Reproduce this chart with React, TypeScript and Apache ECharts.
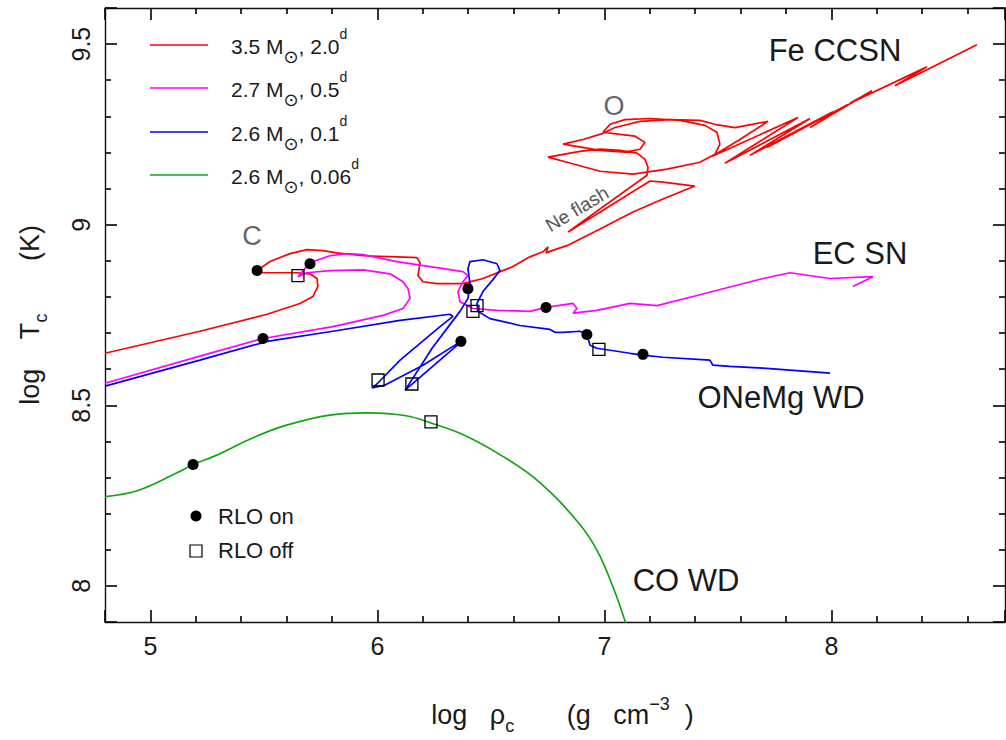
import React, { useEffect, useRef } from "react";
import * as echarts from "echarts";

// ---- data (log rho_c, log T_c) ----
const track35: number[][] = [
  [4.8, 8.644], [5.218, 8.705], [5.514, 8.752], [5.659, 8.782], [5.716, 8.801], [5.738, 8.829],
  [5.734, 8.851], [5.703, 8.864], [5.646, 8.867], [5.496, 8.867], [5.47, 8.873], [5.527, 8.898],
  [5.615, 8.92], [5.69, 8.931], [5.76, 8.928], [5.822, 8.922], [5.937, 8.914], [6.086, 8.911],
  [6.174, 8.909], [6.188, 8.895], [6.179, 8.859], [6.201, 8.842], [6.263, 8.837], [6.377, 8.837],
  [6.465, 8.851], [6.597, 8.884], [6.672, 8.911], [6.729, 8.925], [6.752, 8.939], [6.743, 8.922],
  [6.782, 8.931], [6.835, 8.942], [6.981, 8.988], [7.126, 9.035], [7.258, 9.071], [7.399, 9.107],
  [7.258, 9.118], [7.201, 9.121], [6.84, 8.98], [7.188, 9.137], [7.192, 9.159], [7.179, 9.181],
  [7.144, 9.198], [7.069, 9.206], [6.981, 9.209], [6.892, 9.203], [6.752, 9.187], [6.835, 9.173],
  [6.981, 9.148], [7.126, 9.14], [7.276, 9.154], [7.421, 9.173], [7.487, 9.195], [7.509, 9.223],
  [7.496, 9.256], [7.443, 9.275], [7.333, 9.289], [7.201, 9.294], [7.091, 9.291], [7.025, 9.278],
  [6.994, 9.256], [7.069, 9.25], [7.135, 9.245], [7.179, 9.228], [7.157, 9.209], [7.091, 9.201],
  [6.981, 9.206], [6.818, 9.223], [6.906, 9.236], [6.994, 9.253], [7.047, 9.269], [7.157, 9.286],
  [7.289, 9.291], [7.421, 9.289], [7.487, 9.278], [7.575, 9.269], [7.721, 9.286], [7.597, 9.236],
  [7.478, 9.19], [7.853, 9.297], [7.531, 9.17], [7.906, 9.294], [7.641, 9.192], [8.007, 9.313],
  [7.716, 9.214], [8.073, 9.333], [7.906, 9.269], [8.179, 9.371], [8.082, 9.336], [8.421, 9.437],
  [8.28, 9.385], [8.641, 9.498],
];

const track27: number[][] = [
  [4.8, 8.561], [5.218, 8.636], [5.496, 8.685], [5.804, 8.718], [6.025, 8.749], [6.113, 8.768],
  [6.144, 8.796], [6.135, 8.823], [6.113, 8.842], [6.056, 8.864], [5.937, 8.875], [5.791, 8.873],
  [5.69, 8.867], [5.65, 8.856], [5.703, 8.895], [5.791, 8.914], [5.866, 8.92], [5.937, 8.917],
  [6.086, 8.898], [6.232, 8.884], [6.377, 8.87], [6.399, 8.859], [6.377, 8.842], [6.355, 8.815],
  [6.364, 8.787], [6.421, 8.768], [6.527, 8.763], [6.672, 8.76], [6.743, 8.771], [6.862, 8.782],
  [6.879, 8.768], [6.862, 8.755], [6.967, 8.763], [7.113, 8.782], [7.232, 8.776], [7.408, 8.804],
  [7.699, 8.851], [7.818, 8.867], [7.994, 8.851], [8.183, 8.856], [8.095, 8.829],
];

const track26a: number[][] = [
  [4.8, 8.553], [5.218, 8.625], [5.514, 8.677], [5.804, 8.705], [6.1, 8.735], [6.32, 8.752],
  [6.333, 8.746], [6.276, 8.718], [6.1, 8.625], [5.998, 8.559], [5.976, 8.548], [6.034, 8.556],
  [6.201, 8.611], [6.368, 8.677], [6.351, 8.666], [6.122, 8.542], [6.179, 8.597], [6.241, 8.658],
  [6.307, 8.713], [6.364, 8.76], [6.399, 8.796], [6.408, 8.837], [6.399, 8.878], [6.408, 8.898],
  [6.465, 8.903], [6.527, 8.892], [6.54, 8.873], [6.509, 8.848], [6.465, 8.815], [6.439, 8.782],
  [6.443, 8.76], [6.496, 8.74], [6.628, 8.721], [6.76, 8.71], [6.782, 8.702], [6.818, 8.702],
  [6.892, 8.705], [6.923, 8.696], [6.937, 8.666], [6.967, 8.658], [7.113, 8.644], [7.17, 8.639],
  [7.258, 8.633], [7.465, 8.625], [7.478, 8.611], [7.553, 8.608], [7.699, 8.603], [7.994, 8.589],
];

const track26b: number[][] = [
  [4.8, 8.247], [4.945, 8.264], [5.117, 8.313], [5.188, 8.336], [5.285, 8.36], [5.452, 8.41],
  [5.589, 8.443], [5.791, 8.473], [5.959, 8.479], [6.126, 8.471], [6.236, 8.451], [6.381, 8.418],
  [6.549, 8.36], [6.716, 8.286], [6.884, 8.176], [6.967, 8.099], [7.038, 7.997], [7.095, 7.895],
  [7.108, 7.859],
];

const rloOn: number[][] = [
  [5.47, 8.873], [5.703, 8.892], [5.496, 8.685], [6.399, 8.823], [6.743, 8.771],
  [6.368, 8.677], [6.923, 8.696], [7.17, 8.641], [5.188, 8.336],
];
const rloOff: number[][] = [
  [5.65, 8.859], [6.003, 8.57], [6.152, 8.559], [6.421, 8.76], [6.439, 8.776],
  [6.976, 8.655], [6.236, 8.454],
];

const seriesNames = ["3.5 M⊙, 2.0d", "2.7 M⊙, 0.5d", "2.6 M⊙, 0.1d", "2.6 M⊙, 0.06d"];
const legendRich = [
  "{n|3.5 M}{s|⊙}{n|, 2.0}{p|d}",
  "{n|2.7 M}{s|⊙}{n|, 0.5}{p|d}",
  "{n|2.6 M}{s|⊙}{n|, 0.1}{p|d}",
  "{n|2.6 M}{s|⊙}{n|, 0.06}{p|d}",
];
const colors = ["#ff0000", "#ff00ff", "#0000ff", "#11a611"];

const xMajor = [5, 6, 7, 8];
const yMajor = [8, 8.5, 9, 9.5];

const X_MIN = 4.8;
const X_MAX = 8.765;
const Y_MIN = 7.9;
const Y_MAX = 9.6;

const FONT = '"Liberation Sans", Arial, Helvetica, sans-serif';
const INK = "#1a1a1a";

export default function App() {
  const ref = useRef<HTMLDivElement>(null);

  useEffect(() => {
    if (!ref.current) return;
    const chart = echarts.init(ref.current, undefined, { renderer: "svg" });
    const lineStyle = { color: "#111", width: 1.4 };
    const tickStyle = { color: "#000", width: 1.6 };

    // splitNumber gives a nice interval of 1 (x) and 0.5 (y); minor ticks split each by 5
    const mkX = (position: string, label: boolean, extra: any = {}) => ({
      type: "value",
      position,
      min: X_MIN,
      max: X_MAX,
      splitNumber: 4,
      axisLine: { show: true, onZero: false, lineStyle },
      axisTick: { show: true, inside: true, length: 12, lineStyle: tickStyle },
      minorTick: { show: true, splitNumber: 5, length: 6, lineStyle: tickStyle },
      axisLabel: label
        ? { show: true, customValues: xMajor, margin: 11, fontSize: 25, color: INK, fontFamily: FONT }
        : { show: false },
      splitLine: { show: false },
      minorSplitLine: { show: false },
      ...extra,
    });
    const mkY = (position: string, label: boolean, extra: any = {}) => ({
      type: "value",
      position,
      min: Y_MIN,
      max: Y_MAX,
      splitNumber: 3,
      axisLine: { show: true, onZero: false, lineStyle },
      axisTick: { show: true, inside: true, length: 12, lineStyle: tickStyle },
      minorTick: { show: true, splitNumber: 5, length: 6, lineStyle: tickStyle },
      axisLabel: label
        ? { show: true, customValues: yMajor, rotate: 90, margin: 12, fontSize: 25, color: INK, fontFamily: FONT }
        : { show: false },
      splitLine: { show: false },
      minorSplitLine: { show: false },
      ...extra,
    });

    const richBase = (size: number) => ({
      n: { fontSize: size, lineHeight: 40, fontFamily: FONT, color: INK },
      s: { fontSize: Math.round(size * 0.65), lineHeight: 22, verticalAlign: "bottom", fontFamily: FONT, color: INK },
      p: { fontSize: Math.round(size * 0.65), lineHeight: 22, verticalAlign: "top", fontFamily: FONT, color: INK },
    });

    const legendGraphics: any[] = [];
    const legendY = [45, 88, 132, 175];
    seriesNames.forEach((_, i) => {
      legendGraphics.push({
        type: "line",
        shape: { x1: 150, y1: legendY[i], x2: 208, y2: legendY[i] },
        style: { stroke: colors[i], lineWidth: 1.6 },
      });
      legendGraphics.push({
        type: "text",
        x: 231,
        y: legendY[i] + 1,
        style: {
          text: legendRich[i],
          rich: {
            n: { fontSize: 21, lineHeight: 38, fontFamily: FONT, fill: INK, color: INK },
            s: { fontSize: 18, lineHeight: 20, verticalAlign: "bottom", fontFamily: "DejaVu Sans", fill: INK, color: INK },
            p: { fontSize: 14, lineHeight: 27, verticalAlign: "top", fontFamily: FONT, fill: INK, color: INK },
          },
          verticalAlign: "middle",
          textVerticalAlign: "middle",
          align: "left",
          textAlign: "left",
        },
      });
    });

    const txt = (text: string, x: number, y: number, size: number, color: string, rotation = 0) => ({
      type: "text",
      x,
      y,
      rotation,
      style: {
        text,
        font: `${size}px ${FONT}`,
        fill: color,
        align: "center",
        textAlign: "center",
        verticalAlign: "middle",
        textVerticalAlign: "middle",
      },
    });

    const option: any = {
      animation: false,
      backgroundColor: "#ffffff",
      grid: { left: 105, top: 8, right: 1, bottom: 115, containLabel: false },
      xAxis: [
        mkX("bottom", true, {
          name: "{n|  log   ρ}{s|c}{n|       (g   cm}{p|−3}{n|  )}",
          nameLocation: "middle",
          nameGap: 73,
          nameTextStyle: { rich: richBase(27) },
        }),
        mkX("top", false),
      ],
      yAxis: [
        mkY("left", true, {
          name: "{n|log    T}{s|c}{n|       (K)}",
          nameLocation: "middle",
          nameGap: 55,
          nameTextStyle: { rich: richBase(27) },
        }),
        mkY("right", false),
      ],
      series: [
        ...[track35, track27, track26a, track26b].map((d, i) => ({
          type: "line",
          name: seriesNames[i],
          data: d,
          xAxisIndex: 0,
          yAxisIndex: 0,
          showSymbol: false,
          symbol: "none",
          smooth: i === 3 ? 0.4 : false,
          clip: true,
          lineStyle: { color: colors[i], width: 1.7 },
          itemStyle: { color: colors[i] },
          z: 2,
        })),
        {
          type: "scatter",
          name: "RLO on",
          data: rloOn,
          symbol: "circle",
          symbolSize: 11,
          itemStyle: { color: "#000", opacity: 1 },
          z: 5,
        },
        {
          type: "scatter",
          name: "RLO off",
          data: rloOff,
          symbol: "rect",
          symbolSize: 12,
          itemStyle: { color: "rgba(0,0,0,0)", borderColor: "#000", borderWidth: 1.3, opacity: 1 },
          z: 5,
        },
      ],
      graphic: [
        ...legendGraphics,
        { type: "circle", shape: { cx: 196, cy: 516, r: 5.5 }, style: { fill: "#000" } },
        { type: "rect", shape: { x: 190, y: 545, width: 12, height: 12 }, style: { fill: "none", stroke: "#000", lineWidth: 1.2 } },
        { type: "text", x: 218, y: 516, style: { text: "RLO on", font: `22px ${FONT}`, fill: INK, verticalAlign: "middle", textVerticalAlign: "middle" } },
        { type: "text", x: 218, y: 550, style: { text: "RLO off", font: `22px ${FONT}`, fill: INK, verticalAlign: "middle", textVerticalAlign: "middle" } },
        txt("Fe CCSN", 835, 50, 31, INK),
        txt("EC SN", 860, 253, 31, INK),
        txt("ONeMg WD", 781, 397, 31, INK),
        txt("CO WD", 686, 580, 31, INK),
        txt("C", 252, 236, 27, "#666"),
        txt("O", 614, 106, 27, "#666"),
        txt("Ne flash", 577, 209, 19, "#555", (31 * Math.PI) / 180),
      ],
    };

    chart.setOption(option);
    return () => chart.dispose();
  }, []);

  return (
    <div
      ref={ref}
      style={{ position: "absolute", left: 0, top: 0, width: 1006, height: 740, background: "#fff" }}
    />
  );
}
